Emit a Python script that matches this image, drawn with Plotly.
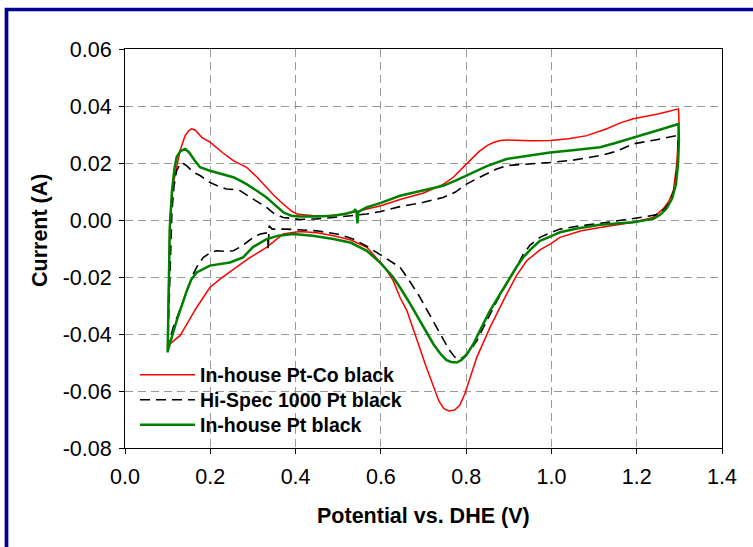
import plotly.graph_objects as go

# ---- data ----
ptco_v = [0.100, 0.102, 0.105, 0.113, 0.121, 0.129, 0.141, 0.150, 0.156, 0.165, 0.180, 0.200, 0.230, 0.254, 0.285,
          0.310, 0.332, 0.350, 0.371, 0.390, 0.403, 0.442, 0.480, 0.510, 0.535, 0.570, 0.600, 0.645, 0.700,
          0.746, 0.770, 0.801, 0.830, 0.850, 0.864, 0.880, 0.895, 0.950, 0.997, 1.040, 1.083, 1.130, 1.160, 1.192, 1.250, 1.298,
          1.299, 1.296, 1.294, 1.286, 1.275, 1.262, 1.239, 1.192, 1.150, 1.114, 1.070, 1.020, 0.997, 0.973,
          0.942, 0.918, 0.895, 0.875, 0.856, 0.825, 0.797, 0.785, 0.773, 0.760, 0.748, 0.736, 0.723, 0.705, 0.692, 0.661,
          0.645, 0.629, 0.606, 0.567, 0.530, 0.489, 0.450, 0.410, 0.371, 0.350, 0.332, 0.290, 0.254, 0.225,
          0.199, 0.168, 0.145, 0.129, 0.113, 0.100]
ptco_i = [-0.0442, -0.0200, 0.0000, 0.0126, 0.0190, 0.0243, 0.0296, 0.0314, 0.0320, 0.0315, 0.0290, 0.0272, 0.0235,
          0.0208, 0.0185, 0.0150, 0.0114, 0.0085, 0.0056, 0.0032, 0.0021, 0.0015, 0.0016, 0.0019, 0.0027,
          0.0038, 0.0050, 0.0072, 0.0095, 0.0125, 0.0150, 0.0197, 0.0240, 0.0262, 0.0272, 0.0279, 0.0281, 0.0278, 0.0279,
          0.0285, 0.0296, 0.0320, 0.0340, 0.0355, 0.0372, 0.0390,
          0.0350, 0.0250, 0.0197, 0.0103, 0.0065, 0.0039, 0.0009, -0.0008, -0.0017, -0.0026, -0.0038,
          -0.0061, -0.0085, -0.0105, -0.0143, -0.0195, -0.0260, -0.0320, -0.0377, -0.0482, -0.0610, -0.0650, -0.0667,
          -0.0670, -0.0662, -0.0635, -0.0585, -0.0510, -0.0453, -0.0318, -0.0272, -0.0213, -0.0160, -0.0096, -0.0070,
          -0.0055, -0.0045, -0.0040, -0.0049, -0.0075, -0.0096, -0.0135, -0.0172, -0.0205, -0.0237, -0.0307,
          -0.0365, -0.0406, -0.0425, -0.0442]

hispec_v = [0.100, 0.103, 0.106, 0.110, 0.115, 0.121, 0.127, 0.133, 0.145, 0.160, 0.176, 0.199, 0.220, 0.238,
            0.255, 0.270, 0.285, 0.301, 0.332, 0.350, 0.371, 0.410, 0.450, 0.489, 0.530, 0.567, 0.600, 0.645,
            0.700, 0.746, 0.775, 0.801, 0.825, 0.848, 0.870, 0.895, 0.950, 0.997, 1.050, 1.114, 1.150, 1.192,
            1.240, 1.294,
            1.297, 1.296, 1.290, 1.280, 1.265, 1.245, 1.208, 1.160, 1.114, 1.060, 1.020, 0.997, 0.973, 0.950,
            0.934, 0.918, 0.900, 0.880, 0.864, 0.845, 0.825, 0.808, 0.793, 0.783, 0.774, 0.760, 0.739, 0.715,
            0.692, 0.670, 0.645, 0.620, 0.598, 0.567, 0.535, 0.500, 0.450, 0.379, 0.345, 0.338, 0.336, 0.334,
            0.317, 0.300, 0.285, 0.270, 0.254, 0.235, 0.215, 0.200, 0.184, 0.172, 0.160, 0.148, 0.137, 0.125,
            0.113, 0.105, 0.100]
hispec_i = [-0.0460, -0.0300, -0.0100, 0.0030, 0.0120, 0.0173, 0.0190, 0.0202, 0.0190, 0.0168, 0.0156, 0.0132,
            0.0118, 0.0109, 0.0107, 0.0103, 0.0088, 0.0074, 0.0044, 0.0022, 0.0009, 0.0002, 0.0004, 0.0009,
            0.0015, 0.0021, 0.0030, 0.0047, 0.0062, 0.0079, 0.0098, 0.0126, 0.0145, 0.0161, 0.0178, 0.0191,
            0.0196, 0.0202, 0.0210, 0.0226, 0.0240, 0.0267, 0.0280, 0.0296,
            0.0270, 0.0200, 0.0120, 0.0070, 0.0038, 0.0018, 0.0009, -0.0002, -0.0012, -0.0022, -0.0032,
            -0.0045, -0.0061, -0.0088, -0.0120, -0.0166, -0.0210, -0.0262, -0.0307, -0.0365, -0.0424, -0.0460,
            -0.0482, -0.0487, -0.0482, -0.0455, -0.0400, -0.0335, -0.0272, -0.0220, -0.0166, -0.0142, -0.0120,
            -0.0092, -0.0067, -0.0050, -0.0038, -0.0032, -0.0032, -0.0020, -0.0102, -0.0045, -0.0049, -0.0062,
            -0.0079, -0.0095, -0.0108, -0.0110, -0.0108, -0.0115, -0.0131, -0.0155, -0.0190, -0.0240, -0.0283,
            -0.0330, -0.0377, -0.0420, -0.0460]

pt_v = [0.100, 0.102, 0.105, 0.110, 0.116, 0.121, 0.130, 0.141, 0.150, 0.163, 0.176, 0.199, 0.230, 0.254,
        0.270, 0.285, 0.310, 0.332, 0.350, 0.371, 0.390, 0.410, 0.450, 0.489, 0.520, 0.537, 0.540, 0.543,
        0.545, 0.547, 0.566, 0.600, 0.645, 0.700, 0.746, 0.775, 0.801, 0.850, 0.895, 0.950, 0.997, 1.050,
        1.114, 1.150, 1.192, 1.250, 1.298,
        1.299, 1.297, 1.292, 1.283, 1.270, 1.255, 1.239, 1.192, 1.114, 1.060, 1.020, 0.997, 0.973, 0.950,
        0.934, 0.918, 0.903, 0.880, 0.856, 0.835, 0.817, 0.800, 0.788, 0.778, 0.765, 0.754, 0.740, 0.723, 0.700,
        0.684, 0.665, 0.645, 0.629, 0.600, 0.567, 0.530, 0.489, 0.440, 0.395, 0.360, 0.332, 0.300, 0.277,
        0.246, 0.220, 0.199, 0.168, 0.155, 0.145, 0.133, 0.121, 0.110, 0.100]
pt_i = [-0.0465, -0.0250, -0.0030, 0.0100, 0.0180, 0.0220, 0.0242, 0.0249, 0.0238, 0.0210, 0.0185, 0.0173,
        0.0160, 0.0150, 0.0138, 0.0126, 0.0102, 0.0079, 0.0055, 0.0027, 0.0015, 0.0012, 0.0012, 0.0015,
        0.0023, 0.0030, 0.0038, 0.0025, -0.0012, 0.0028, 0.0044, 0.0060, 0.0085, 0.0103, 0.0120, 0.0138,
        0.0156, 0.0190, 0.0214, 0.0226, 0.0237, 0.0245, 0.0255, 0.0270, 0.0290, 0.0315, 0.0337,
        0.0280, 0.0200, 0.0125, 0.0075, 0.0040, 0.0018, 0.0004, -0.0008, -0.0017, -0.0030, -0.0043,
        -0.0058, -0.0073, -0.0105, -0.0131, -0.0165, -0.0201, -0.0260, -0.0318, -0.0380, -0.0435, -0.0475,
        -0.0492, -0.0500, -0.0498, -0.0492, -0.0470, -0.0435, -0.0375, -0.0330, -0.0285, -0.0237, -0.0201, -0.0152,
        -0.0108, -0.0080, -0.0067, -0.0055, -0.0049, -0.0055, -0.0067, -0.0095, -0.0131, -0.0149, -0.0155,
        -0.0160, -0.0184, -0.0210, -0.0248, -0.0300, -0.0354, -0.0410, -0.0460]

x_ticks = [0.0, 0.2, 0.4, 0.6, 0.8, 1.0, 1.2, 1.4]
x_labels = ["0.0", "0.2", "0.4", "0.6", "0.8", "1.0", "1.2", "1.4"]
y_ticks = [0.06, 0.04, 0.02, 0.00, -0.02, -0.04, -0.06, -0.08]
y_labels = ["0.06", "0.04", "0.02", "0.00", "-0.02", "-0.04", "-0.06", "-0.08"]

FONT = "Arial, Liberation Sans, sans-serif"

fig = go.Figure()
fig.add_trace(go.Scatter(x=ptco_v, y=ptco_i, mode="lines", name="In-house Pt-Co black",
                         line=dict(color="#ff0000", width=1.5), legend="legend"))
fig.add_trace(go.Scatter(x=hispec_v, y=hispec_i, mode="lines", name="Hi-Spec 1000 Pt black",
                         line=dict(color="#000000", width=1.6, dash="10px,6px"), legend="legend2"))
fig.add_trace(go.Scatter(x=pt_v, y=pt_i, mode="lines", name="In-house Pt black",
                         line=dict(color="#008000", width=2.5), legend="legend3"))

L, R, T, B = 125, 31, 49, 99
W, H = 753, 547
pw, ph = W - L - R, H - T - B

def px(xp):
    return (xp - L) / pw

def py(yp):
    return (H - B - yp) / ph

def leg(ycenter):
    return dict(x=px(135), y=py(ycenter), xanchor="left", yanchor="middle",
                bgcolor="rgba(0,0,0,0)", borderwidth=0, itemwidth=55,
                font=dict(family=FONT, size=19.5, color="black", weight="bold"))

fig.update_layout(
    width=W, height=H,
    margin=dict(l=L, r=R, t=T, b=B, pad=0),
    paper_bgcolor="white", plot_bgcolor="white",
    font=dict(family=FONT, size=21.5, color="black"),
    showlegend=True,
    legend=leg(375), legend2=leg(400), legend3=leg(425),
    xaxis=dict(range=[0, 1.4], tickvals=x_ticks, ticktext=x_labels,
               showline=True, linecolor="black", linewidth=1, mirror=True,
               ticks="outside", ticklen=5, tickcolor="black", ticklabelstandoff=4,
               showgrid=True, gridcolor="#9a9a9a", gridwidth=1, griddash="8px,5px",
               zeroline=False, tickfont=dict(size=21.5)),
    yaxis=dict(range=[-0.08, 0.06], tickvals=y_ticks, ticktext=y_labels,
               showline=True, linecolor="black", linewidth=1, mirror=True,
               ticks="outside", ticklen=5, tickcolor="black", ticklabelstandoff=3,
               showgrid=True, gridcolor="#9a9a9a", gridwidth=1, griddash="8px,5px",
               zeroline=False, tickfont=dict(size=21.5)),
    annotations=[
        dict(text="<b>Potential vs. DHE (V)</b>", xref="paper", yref="paper",
             x=px(423), y=py(516), xanchor="center", yanchor="middle", showarrow=False,
             font=dict(family=FONT, size=21.5, color="black")),
        dict(text="<b>Current (A)</b>", xref="paper", yref="paper", textangle=-90,
             x=px(40), y=py(231), xanchor="center", yanchor="middle", showarrow=False,
             font=dict(family=FONT, size=21.5, color="black")),
    ],
    shapes=[
        dict(type="rect", xref="paper", yref="paper", x0=px(6.5), x1=px(W + 20),
             y0=py(H + 20), y1=py(9.5), line=dict(color="#000090", width=3.7),
             fillcolor="rgba(0,0,0,0)", layer="above"),
    ],
)

fig.write_html("out.html")
